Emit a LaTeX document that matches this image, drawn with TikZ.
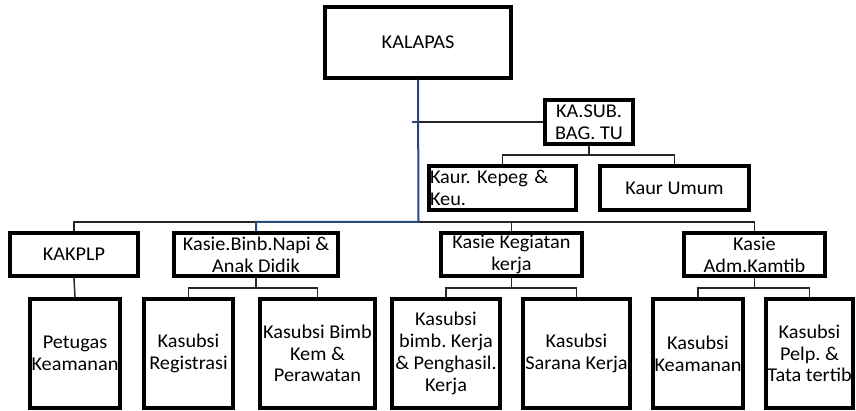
\documentclass[tikz,border=0pt]{standalone}
\usepackage{fontspec}
\setmainfont[FakeStretch=1.04]{Carlito}
\definecolor{navy}{RGB}{40,72,125}
\begin{document}
\frenchspacing
\begin{tikzpicture}[x=1pt,y=-1pt,
  box/.style={draw=black,line width=3.5pt,inner sep=1pt,align=center,
    font=\fontsize{19.5}{21.8}\selectfont},
  conn/.style={draw=black!85,line width=1.5pt},
  blu/.style={draw=navy,line width=2pt}]
\useasboundingbox (0,0) rectangle (856,411);
% level 0
\node[box,minimum width=186pt,minimum height=71pt] (kal) at (418,42.5) {KALAPAS};
\node[box,minimum width=88pt,minimum height=44pt] (sub) at (589,122) {KA.SUB.\\BAG. TU};
\node[box,minimum width=147pt,minimum height=44pt,text width=145pt,align=left] (kep) at (502.5,188) {Kaur. Kepeg \&\\Keu.};
\node[box,minimum width=149pt,minimum height=44pt] (umu) at (674.5,188) {Kaur Umum};
% level 2
\node[box,minimum width=128pt,minimum height=43pt] (kak) at (74,254.5) {KAKPLP};
\node[box,minimum width=164pt,minimum height=43pt] (bin) at (256,254.5) {Kasie.Binb.Napi \&\\Anak Didik};
\node[box,minimum width=141pt,minimum height=43pt] (keg) at (511.5,254.5) {Kasie Kegiatan\\kerja};
\node[box,minimum width=141pt,minimum height=43pt] (adm) at (754.5,254.5) {Kasie\\Adm.Kamtib};
% level 3
\node[box,minimum width=90pt,minimum height=109pt] (pet) at (75,353.5) {Petugas\\Keamanan};
\node[box,minimum width=89pt,minimum height=109pt] (reg) at (188.5,353.5) {Kasubsi\\Registrasi};
\node[box,minimum width=115pt,minimum height=109pt] (bkp) at (317.5,353.5) {Kasubsi Bimb\\Kem \&\\Perawatan};
\node[box,minimum width=108pt,minimum height=109pt] (bkj) at (446,353.5) {Kasubsi\\bimb. Kerja\\\& Penghasil.\\Kerja};
\node[box,minimum width=107pt,minimum height=109pt] (sar) at (576.5,353.5) {Kasubsi\\Sarana Kerja};
\node[box,minimum width=90pt,minimum height=109pt] (kea) at (698,353.5) {Kasubsi\\Keamanan};
\node[box,minimum width=87pt,minimum height=109pt] (pel) at (809.5,353.5) {Kasubsi\\Pelp. \&\\Tata tertib};
% coordinates
\coordinate (j) at (418.5,222);
\coordinate (t) at (418.5,122);
\coordinate (s) at (589,155);
\coordinate (b1) at (256,288);
\coordinate (b2) at (511.5,288);
\coordinate (b3) at (754.5,288);
% connectors
\draw[conn] (t) -- (sub.west);
\draw[conn] (sub.south) -- (s);
\draw[conn] (kep.north) |- (s) -| (umu.north);
\draw[conn] (kak.north) |- (j) -| (adm.north);
\draw[conn] (keg.north) -- (keg.north |- j);
\draw[conn] (kak.south) -- (pet.north);
\draw[conn] (bin.south) -- (b1);
\draw[conn] (reg.north) |- (b1) -| (bkp.north);
\draw[conn] (keg.south) -- (b2);
\draw[conn] (bkj.north) |- (b2) -| (sar.north);
\draw[conn] (adm.south) -- (b3);
\draw[conn] (kea.north) |- (b3) -| (pel.north);
\draw[blu] (kal.south) -- (j) -| (bin.north);
\draw[blu] (t) -- ++(-7,0);
\end{tikzpicture}
\end{document}
